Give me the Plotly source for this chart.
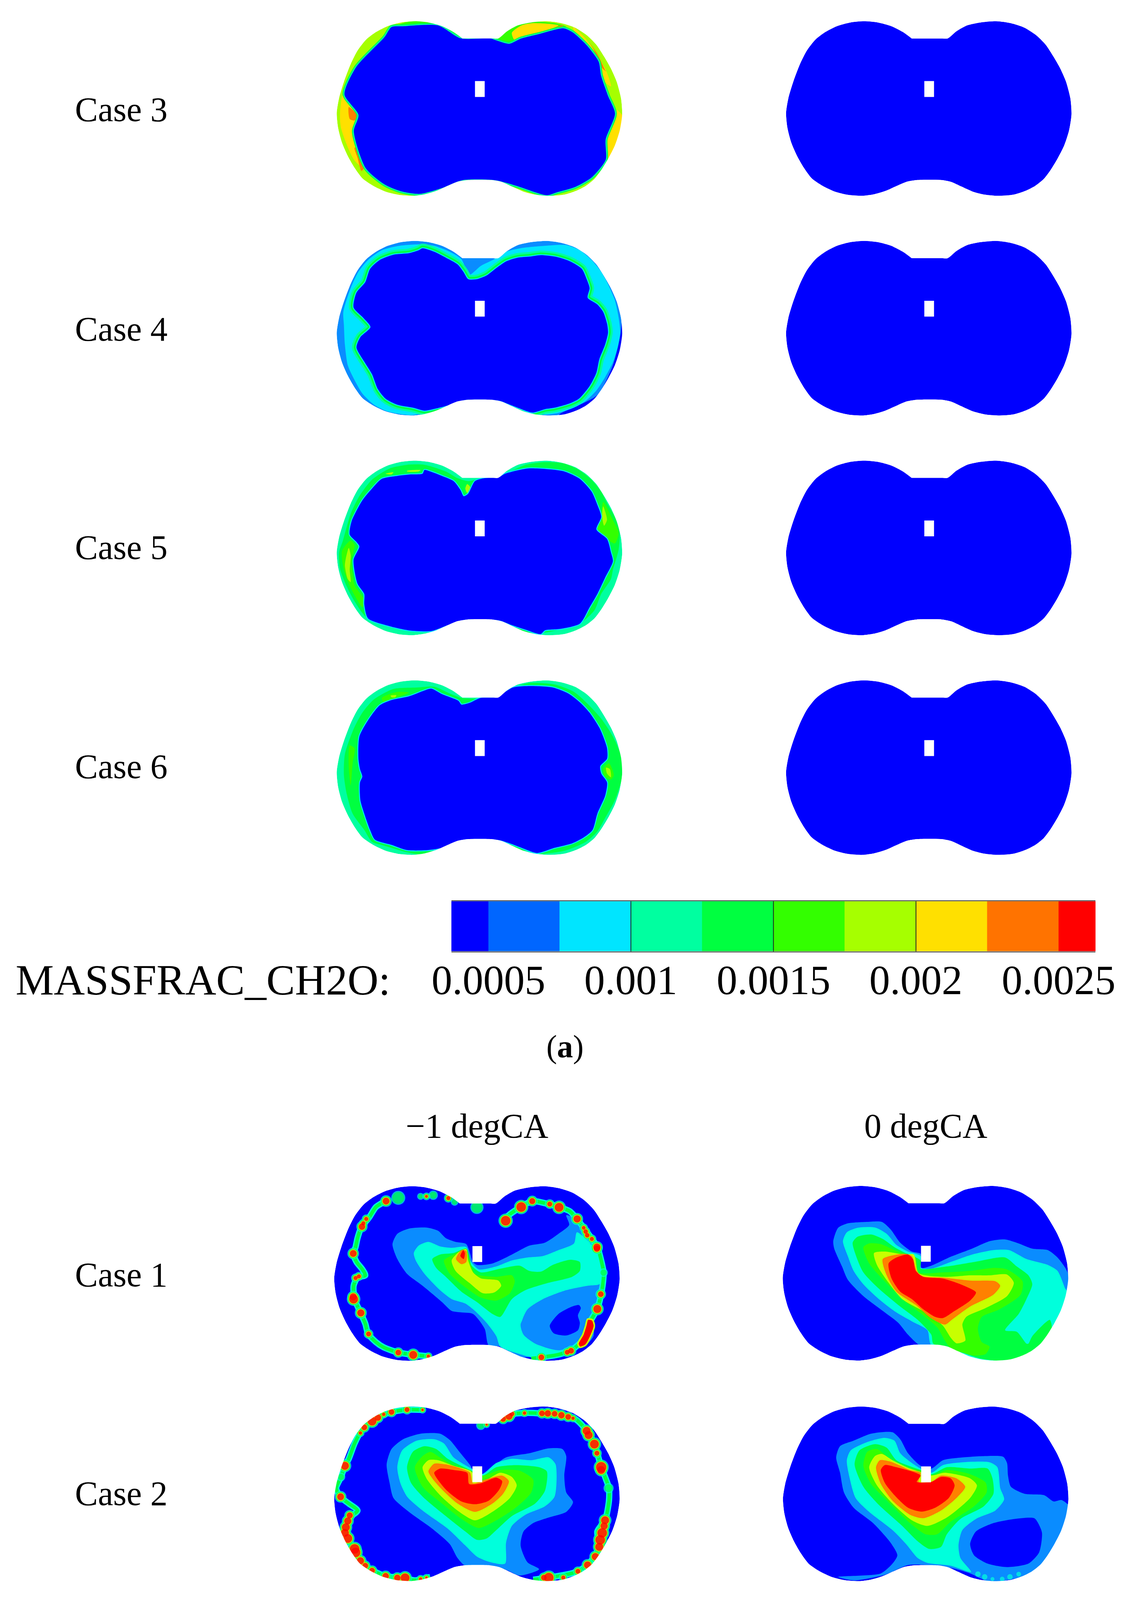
import plotly.graph_objects as go

W, H = 2891, 5368
FONT = "Liberation Serif"

BLUE = "#0000FF"
LIGHT = "#0A8CFF"
CYAN = "#00E5FF"
AQUA = "#00FFDC"
TURQ = "#00FFA0"
GREEN = "#00FF40"
LIME = "#33FF00"
CHART = "#A6FF00"
YELLOW = "#C8FF00"
GOLD = "#FFE000"
ORANGE = "#FF8000"
RED = "#FF0000"

# colour bar
BAR_EDGES = [0.00037, 0.0005, 0.00075, 0.001, 0.00125, 0.0015, 0.00175, 0.002, 0.00225, 0.0025, 0.00263]
BAR_COLORS = ["#0000FF", "#0066FF", "#00E5FF", "#00FFA0", "#00FF40", "#33FF00", "#A6FF00", "#FFE000", "#FF7300", "#FF0000"]
BAR_TICKS = [0.0005, 0.001, 0.0015, 0.002, 0.0025]
BAR_LABELS = ["0.0005", "0.001", "0.0015", "0.002", "0.0025"]

# chamber section
OUTLINE = [(705,278),(660,235),(600,195),(530,170),(460,162),(390,170),(320,195),(260,235),(210,285),
           (165,360),(130,450),(95,570),(70,680),(58,780),(65,880),(85,980),(115,1070),(150,1150),(190,1220),
           (245,1270),(310,1310),(380,1332),(450,1338),(510,1328),(570,1305),(630,1270),(680,1243),(730,1232),
           (860,1232),(910,1245),(960,1275),(1020,1310),(1080,1330),(1150,1338),(1230,1330),(1290,1305),
           (1340,1272),(1385,1225),(1420,1165),(1455,1090),(1490,1000),(1515,900),(1528,790),(1522,680),
           (1500,570),(1470,480),(1435,400),(1395,320),(1345,255),(1285,205),(1215,175),(1140,162),(1060,170),
           (990,190),(935,230),(890,278),(860,278),(800,278),(730,278),(705,278)]
HOLE = [(770,565),(820,565),(820,672),(770,672),(770,565)]

# Case 3, -1 degCA
C3_INNER = [(340,201),(400,196),(582,191),(696,277),(849,277),(873,288),(946,314),(1007,279),(1104,247),(1225,210),
            (1273,237),(1346,325),(1407,435),(1419,527),(1455,664),(1491,784),(1443,958),(1443,1096),(1370,1215),
            (1285,1279),(1188,1316),(1140,1334),(982,1270),(873,1233),(704,1233),(595,1288),(485,1325),(388,1307),
            (304,1261),(207,1151),(146,903),(170,793),(98,655),(158,471),(304,269)]
C3_LEFT_GOLD = [(90,660),(155,790),(140,900),(200,1150),(300,1260),(280,1240),(150,1100),(80,880),(75,780)]
C3_LEFT_OR1 = [(120,740),(165,800),(150,830),(125,820)]
C3_LEFT_OR2 = [(150,1015),(170,1010),(200,1150),(185,1170),(165,1080)]
C3_RIGHT_GOLD1 = [(1500,760),(1530,800),(1530,930),(1490,1060),(1450,1100),(1445,960),(1495,790)]
C3_RIGHT_GOLD2 = [(1275,200),(1340,280),(1440,480),(1470,600),(1430,560),(1410,435),(1350,325),(1285,237)]
C3_RIGHT_OR = [(1355,300),(1400,380),(1440,490),(1445,500),(1420,470),(1380,350)]
C3_TOPR_LIME = [(885,290),(940,200),(1060,165),(1180,175),(1240,200),(1110,250),(1010,285),(946,325)]
C3_TOPR_GOLD = [(960,240),(1010,190),(1070,175),(1200,190),(1110,235),(1020,265),(975,290)]
C3_TOPR_OR = [(1180,210),(1220,190),(1225,205),(1190,225)]
C3_TOPL_LIME = [(340,205),(410,170),(500,160),(590,185),(400,195)]

# Case 4, -1 degCA
C4_SLIVER = [(1528,700),(1540,800),(1510,1000),(1440,1150),(1370,1260),(1290,1320),(1200,1340),(1210,1325),
             (1400,1200),(1480,1000),(1518,800)]
C4_CYAN = [(92,640),(130,480),(170,370),(220,290),(290,225),(380,195),(490,185),(560,195),(640,235),(700,285),
           (740,390),(800,330),(870,285),(930,235),(1010,210),(1130,195),(1240,190),(1310,225),(1370,290),
           (1420,370),(1450,440),(1490,560),(1510,680),(1518,780),(1505,880),(1480,980),(1440,1080),(1395,1170),
           (1340,1240),(1280,1285),(1200,1320),(1120,1332),(1060,1310),(560,1310),(440,1335),(320,1310),(250,1265),
           (190,1190),(150,1100),(115,1000),(100,860),(95,730)]
C4_INNER = [(500,212),(560,235),(620,275),(680,320),(710,370),(735,420),(780,420),(830,395),(880,345),(930,300),
            (990,275),(1050,268),(1110,258),(1190,270),(1260,300),(1320,350),(1345,420),(1360,480),(1350,545),
            (1400,590),(1430,640),(1450,720),(1455,780),(1440,860),(1410,960),(1395,1050),(1360,1140),(1305,1225),
            (1260,1255),(1180,1285),(1130,1295),(1065,1318),(1000,1290),(950,1265),(900,1240),(850,1232),(730,1232),
            (680,1245),(630,1270),(570,1290),(510,1305),(450,1285),(370,1265),(310,1225),(270,1160),(240,1060),
            (200,975),(160,880),(180,810),(232,742),(195,680),(145,610),(160,510),(205,440),(230,350),(280,290),
            (350,255),(430,245),(480,225)]

# Case 5, -1 degCA
C5_GREEN = [(90,700),(130,520),(175,400),(240,290),(330,215),(420,190),(510,190),(620,235),(680,280),(735,300),
            (790,285),(900,270),(960,230),(1030,190),(1130,172),(1225,180),(1300,220),(1370,290),(1420,370),
            (1455,460),(1490,540),(1515,640),(1510,760),(1480,900),(1470,960),(1420,1060),(1385,1170),(1320,1250),
            (1230,1290),(1130,1320),(540,1310),(440,1310),(350,1290),(260,1245),(205,1210),(150,1110),(110,1010),
            (75,890),(70,780)]
C5_INNER = [(510,225),(540,235),(600,265),(660,300),(695,360),(712,402),(735,385),(770,300),(820,280),(890,275),
            (925,250),(1040,215),(1130,218),(1230,235),(1310,285),(1370,370),(1400,460),(1420,540),(1395,625),
            (1450,690),(1470,780),(1480,840),(1440,950),(1400,1060),(1360,1150),(1310,1260),(1210,1295),(1130,1305),
            (1108,1330),(1030,1300),(960,1270),(900,1240),(850,1232),(730,1232),(680,1245),(630,1270),(545,1310),
            (430,1305),(340,1280),(220,1225),(200,1130),(200,1060),(165,990),(145,830),(175,740),(160,710),(125,660),
            (135,570),(190,430),(240,350),(290,285),(370,265),(440,255),(500,250)]
C5_LIME1 = [(85,770),(130,700),(150,730),(135,830),(150,1000),(200,1100),(190,1150),(130,1020),(95,900)]
C5_LIME2 = [(1430,440),(1480,560),(1510,650),(1490,720),(1440,680),(1400,620),(1420,540)]
C5_CHART1 = [(105,820),(120,750),(130,800),(125,900),(130,980),(115,960),(100,870)]
C5_CHART2 = [(1430,470),(1450,560),(1435,600),(1425,540)]
C5_CHART3 = [(310,250),(350,240),(340,255)]
C5_CHART4 = [(420,230),(490,225),(480,235),(420,235)]
C5_CHART5 = [(730,320),(745,340),(730,380),(720,350)]

# Case 6, -1 degCA
C6_GREEN = [(95,800),(100,660),(145,490),(190,380),(250,290),(350,220),(470,210),(560,205),(640,250),(700,280),
            (790,285),(880,275),(960,215),(1050,180),(1180,190),(1280,240),(1350,320),(1420,420),(1480,540),
            (1525,680),(1525,830),(1490,970),(1440,1090),(1400,1180),(1340,1250),(1230,1310),(1100,1330),(1090,1320),
            (600,1290),(500,1335),(420,1320),(300,1275),(240,1250),(200,1170),(140,1060),(110,930)]
C6_INNER = [(545,218),(600,255),(650,280),(685,300),(700,325),(740,315),(800,280),(880,275),(965,210),(1060,200),
            (1170,210),(1250,250),(1310,310),(1360,380),(1410,480),(1430,540),(1450,620),(1450,690),(1415,740),
            (1420,790),(1450,850),(1440,940),(1400,1060),(1375,1170),(1330,1220),(1270,1260),(1180,1290),(1090,1325),
            (1020,1295),(960,1265),(900,1240),(850,1232),(730,1232),(680,1245),(600,1290),(530,1305),(420,1305),
            (340,1270),(255,1235),(230,1170),(200,1060),(180,970),(178,850),(190,810),(178,760),(170,690),(175,540),
            (220,430),(280,330),(340,295),(430,270),(500,235)]
C6_LIME1 = [(125,600),(150,620),(140,720),(130,870),(120,750)]
C6_LIME2 = [(290,280),(370,240),(430,245),(370,275),(300,310)]
C6_LIME3 = [(1430,760),(1460,720),(1485,800),(1470,830),(1440,810)]
C6_CHART1 = [(1445,750),(1465,760),(1470,815),(1450,790)]
C6_CHART2 = [(335,265),(365,262),(360,275),(340,275)]

# Case 1, -1 degCA
C1L_LIGHT = [(345,580),(370,510),(430,475),(520,468),(580,490),(620,540),(670,565),(725,580),(760,700),(780,720),
             (860,710),(960,650),(1050,590),(1130,570),(1200,510),(1255,450),(1240,385),(1300,420),(1420,690),
             (1440,850),(1410,960),(1380,1060),(1380,1200),(1330,1270),(1150,1320),(1000,1340),(900,1270),(840,1260),
             (820,1150),(760,1050),(700,1040),(650,1030),(600,970),(500,860),(420,780),(370,680)]
C1L_AQUA = [(455,640),(480,590),(530,565),(590,595),(650,605),(725,600),(745,690),(790,750),(880,730),(960,690),
            (1040,670),(1120,660),(1200,620),(1280,575),(1295,500),(1380,600),(1420,700),(1435,800),(1410,850),
            (1350,860),(1240,890),(1120,950),(1040,1020),(1010,1110),(1020,1180),(1070,1240),(1130,1275),(1200,1295),
            (1290,1270),(1250,1300),(1100,1350),(1000,1320),(900,1270),(880,1200),(830,1110),(770,1030),(720,980),
            (650,950),(590,890),(510,780),(465,690)]
C1L_ISLE_LIGHT = [(1370,880),(1250,900),(1130,960),(1050,1030),(1005,1120),(1020,1190),(1080,1250),(1150,1278),
                  (1240,1270),(1300,1250),(1340,1170),(1360,1090),(1340,1040),(1370,990),(1400,960)]
C1L_ISLE_BLUE = [(1305,990),(1270,1000),(1200,1050),(1155,1130),(1175,1180),(1240,1195),(1300,1160),(1310,1110),
                 (1300,1060),(1315,1010)]
C1L_GREEN = [(550,680),(590,650),(660,640),(725,610),(750,720),(800,770),(900,745),(1000,725),(1050,760),(1110,765),
             (1170,720),(1260,685),(1310,700),(1310,760),(1270,800),(1150,840),(1030,890),(960,950),(900,1070),
             (860,1050),(780,970),(700,900),(620,800),(570,740)]
C1L_LIME = [(610,690),(660,650),(725,610),(750,720),(770,780),(880,800),(960,790),(975,830),(950,910),(880,960),
            (800,940),(710,860),(640,780)]
C1L_YELLOW = [(650,690),(690,630),(725,615),(735,690),(760,770),(800,810),(890,825),(905,860),(870,905),(810,910),
              (740,840),(670,760)]
C1L_ORANGE = [(672,680),(700,620),(725,625),(725,700),(700,715)]
C1L_RED = [(695,660),(710,620),(718,640),(712,680)]
C1L_CHAIN1 = [(310,290),(260,330),(225,400),(185,465),(165,540),(155,600),(143,645),(160,700),(190,750),(205,790),
              (165,805),(145,860),(150,950),(180,1040),(205,1115),(220,1185),(260,1240),(300,1275),(375,1310),
              (450,1325),(530,1335)]
C1L_CHAIN2 = [(930,420),(940,390),(1005,330),(1065,290),(1150,310),(1205,330),(1260,360),(1295,410),(1330,470),
              (1370,540),(1400,600),(1420,690),(1432,770),(1430,830),(1420,915),(1400,1015),(1360,1110),(1330,1220),
              (1265,1295),(1195,1325),(1110,1342),(1060,1350)]
C1L_SPOTS = [(375,268,30),(490,258,12),(555,250,18),(665,295,14),(780,332,28),(1432,772,16)]
C1L_BEADS = [(312,290,17),(210,410,10),(195,440,10),(188,462,16),(143,643,17),(172,797,10),(155,808,10),(145,950,22),
             (143,935,18),(182,1043,18),(222,1185,12),(375,1310,14),(452,1326,20),(530,1335,8),(520,258,7),(633,270,10),
             (928,422,24),(1008,330,24),(1065,290,15),(1155,310,12),(1203,332,22),(1296,410,18),(1330,470,9),(1340,495,11),
             (1348,520,11),(1372,545,10),(1398,600,18),(1398,610,16),(1418,917,14),(1400,1017,20),(1265,1298,14),
             (1245,1308,12),(1112,1342,14)]
C1L_LONG = [(1350,1085),(1375,1090),(1385,1130),(1370,1190),(1340,1260),(1310,1275),(1300,1250),(1325,1190),(1340,1130)]

# Case 1, 0 degCA
C1R_LIGHT = [(295,560),(320,470),(370,440),(470,430),(545,430),(590,480),(640,570),(700,630),(745,645),(745,700),
             (750,740),(800,725),(900,665),(1010,610),(1100,560),(1180,548),(1250,575),(1320,610),(1400,620),(1450,670),
             (1490,740),(1510,800),(1500,880),(1510,1000),(1450,1200),(1350,1340),(1100,1380),(800,1260),(740,1260),
             (680,1190),(630,1110),(540,1020),(450,930),(370,820),(340,730),(300,610)]
C1R_AQUA = [(345,560),(365,500),(420,470),(510,468),(570,510),(620,585),(680,630),(745,660),(745,740),(800,745),
            (900,700),(1010,650),(1120,620),(1200,620),(1290,680),(1400,720),(1450,760),(1490,880),(1500,900),(1500,1050),
            (1450,1200),(1350,1340),(1100,1380),(800,1260),(780,1160),(700,1100),(620,1040),(530,950),(450,850),(400,760),
            (370,660)]
C1R_GREEN = [(395,570),(420,530),(490,515),(550,545),(610,600),(660,635),(745,690),(745,745),(880,730),(1020,700),
             (1180,670),(1240,730),(1300,790),(1320,850),(1290,950),(1250,1050),(1180,1160),(1240,1170),(1290,1250),
             (1300,1250),(1320,1200),(1410,1090),(1420,1150),(1350,1290),(1200,1365),(1050,1350),(900,1280),(810,1250),
             (800,1190),(730,1090),(640,1000),(530,880),(450,770),(410,650)]
C1R_LIME = [(450,600),(480,575),(540,580),(610,620),(660,645),(720,670),(735,770),(860,770),(1000,760),(1120,740),
            (1190,750),(1270,830),(1260,920),(1150,1020),(1060,1070),(1040,1150),(1060,1240),(1100,1270),(1080,1320),
            (1020,1330),(900,1280),(870,1230),(830,1140),(750,1050),(660,960),(560,830),(480,710)]
C1R_YELLOW = [(505,640),(560,630),(660,650),(710,650),(735,775),(880,800),(1000,790),(1100,790),(1190,785),(1225,840),
              (1190,930),(1080,1010),(980,1070),(960,1120),(975,1230),(930,1248),(900,1210),(860,1130),(770,1040),
              (650,950),(580,840),(520,720)]
C1R_ORANGE = [(550,680),(660,645),(700,660),(725,760),(750,795),(860,805),(1000,825),(1130,830),(1155,860),(1120,920),
              (1000,1000),(910,1085),(870,1122),(800,1080),(720,990),(620,900),(570,790)]
C1R_RED = [(580,710),(620,670),(680,650),(705,680),(720,760),(760,800),(860,812),(950,850),(1030,905),(1000,960),
           (920,1030),(860,1078),(820,1070),(760,1020),(700,950),(640,900),(595,810)]

# Case 2, -1 degCA
C2L_LIGHT = [(315,620),(340,510),(400,440),(490,400),(590,400),(640,445),(690,530),(745,625),(755,650),(800,720),
             (860,640),(930,570),(1050,540),(1150,505),(1220,510),(1240,560),(1230,700),(1240,820),(1275,890),(1240,960),
             (1150,1000),(1070,1040),(1020,1100),(1005,1200),(1040,1320),(1100,1370),(1000,1415),(940,1380),(880,1350),
             (720,1345),(680,1290),(640,1190),(550,1080),(430,960),(350,860),(330,750)]
C2L_AQUA = [(370,640),(395,520),(470,450),(560,440),(610,470),(660,570),(745,645),(805,690),(880,610),(960,580),
            (1060,590),(1150,570),(1185,620),(1180,850),(1130,920),(1030,980),(960,1060),(930,1180),(925,1330),(850,1320),
            (780,1280),(720,1200),(630,1080),(500,950),(420,850),(385,750)]
C2L_GREEN = [(420,640),(450,530),(510,490),(570,510),(630,580),(745,660),(810,700),(880,640),(980,625),(1100,640),
             (1140,670),(1130,810),(1080,900),(960,990),(880,1090),(830,1150),(780,1160),(720,1100),(620,990),(500,850),
             (440,750)]
C2L_LIME = [(460,640),(500,560),(540,530),(590,570),(660,625),(745,665),(810,700),(900,660),(1000,665),(1070,730),
            (1060,820),(980,930),(880,1020),(790,1075),(700,1010),(600,900),(500,780)]
C2L_YELLOW = [(500,640),(530,590),(580,590),(660,630),(745,665),(800,745),(900,680),(960,710),(985,770),(950,860),
              (870,950),(770,1020),(680,950),(590,840),(520,720)]
C2L_ORANGE = [(530,670),(560,615),(620,620),(700,650),(745,680),(760,755),(820,730),(910,700),(945,740),(915,830),
              (860,900),(770,960),(680,900),(600,800),(550,720)]
C2L_RED = [(560,680),(590,650),(660,660),(730,680),(740,760),(800,755),(880,715),(910,740),(895,800),(840,880),
           (770,905),(700,885),(620,800)]
C2L_CHAIN1 = [(500,230),(420,228),(340,245),(270,280),(220,330),(180,390),(150,470),(120,580),(100,630),(80,710),
              (55,790),(75,850),(120,900),(165,950),(125,1000),(95,1080),(110,1150),(150,1230),(180,1310),(230,1370),
              (310,1420),(400,1432),(460,1450),(540,1425)]
C2L_CHAIN2 = [(900,300),(960,260),(1025,252),(1100,255),(1280,290),(1340,370),(1385,475),(1420,640),(1440,710),
              (1460,790),(1460,880),(1440,1020),(1400,1100),(1410,1210),(1350,1340),(1280,1395),(1150,1430),(1070,1445)]
C2L_SPOTS = [(1458,790,20),(800,340,18),(80,710,16)]
C2L_BEADS = [(420,228,12),(500,230,6),(340,245,14),(300,262,8),(270,285,16),(240,310,22),(200,355,14),(180,395,8),
             (100,630,20),(78,852,17),(125,985,15),(115,1025,18),(105,1070,20),(100,1110,20),(115,1150,22),(150,1225,24),
             (155,1250,24),(180,1310,18),(205,1345,14),(240,1380,14),(310,1420,16),(370,1432,16),(410,1432,22),(490,1440,8),
             (520,1430,6),(915,295,14),(945,275,18),(960,258,12),(1025,253,8),(1115,255,14),(1145,255,16),(1180,258,14),
             (1215,268,16),(1250,280,14),(1275,290,8),(1345,380,20),(1355,410,20),(1385,475,22),(1398,540,12),(1420,640,26),
             (1420,660,20),(1440,1020,20),(1435,1060,18),(1425,1110,24),(1415,1160,24),(1410,1210,20),(1390,1280,18),
             (1350,1340,18),(1300,1385,12),(1150,1430,24),(1125,1430,14),(1225,1430,10),(830,335,5)]

# Case 2, 0 degCA
C2R_LIGHT = [(310,570),(330,490),(400,450),(490,400),(600,390),(640,440),(680,540),(745,630),(800,650),(860,590),
             (960,570),(1080,560),(1170,565),(1190,610),(1195,700),(1210,780),(1280,830),(1380,840),(1430,885),(1470,875),
             (1510,920),(1510,1100),(1450,1250),(1360,1380),(1220,1440),(1100,1460),(1000,1400),(900,1360),(780,1340),
             (680,1340),(560,1410),(400,1450),(320,1425),(540,1400),(600,1330),(625,1270),(590,1180),(500,1040),(400,930),
             (350,820),(330,680)]
C2R_ISLE_BLUE = [(1000,1190),(1030,1100),(1120,1040),(1230,1010),(1330,1005),(1350,1040),(1370,1110),(1355,1250),
                 (1300,1330),(1190,1355),(1090,1330),(1020,1270)]
C2R_AQUA = [(365,590),(385,520),(470,460),(560,430),(610,450),(640,540),(700,610),(745,650),(800,680),(860,625),
            (960,605),(1100,605),(1140,640),(1155,790),(1175,870),(1130,950),(1030,1010),(960,1090),(940,1200),(950,1290),
            (1005,1390),(900,1345),(780,1325),(730,1290),(670,1190),(600,1090),(480,960),(410,860),(380,720)]
C2R_GREEN = [(405,620),(430,520),(510,475),(570,500),(620,590),(745,660),(800,690),(880,640),(1000,650),(1090,650),
             (1115,720),(1120,830),(1070,920),(950,1010),(880,1120),(850,1210),(790,1225),(730,1170),(650,1060),(530,910),
             (450,780)]
C2R_LIME = [(450,630),(470,530),(520,510),(570,560),(640,630),(745,665),(810,695),(880,660),(1000,690),(1080,750),
            (1085,820),(1020,920),(900,1030),(830,1120),(770,1120),(690,1040),(580,890),(490,760)]
C2R_YELLOW = [(480,640),(510,560),(545,545),(600,590),(690,650),(745,675),(800,700),(870,680),(1000,720),(1035,770),
              (1000,860),(880,1000),(780,1060),(700,1020),(600,900),(520,770)]
C2R_ORANGE = [(515,640),(535,590),(590,600),(690,660),(745,680),(735,745),(800,745),(850,700),(930,720),(975,780),
              (930,860),(850,950),(760,1005),(690,980),(600,880),(540,760)]
C2R_RED = [(540,660),(560,625),(620,640),(720,680),(745,700),(725,745),(800,745),(850,710),(900,720),(920,770),
           (890,860),(820,930),(750,958),(680,930),(610,840),(560,750)]
C2R_SPECKS = [(1040,1405,14),(1075,1425,14),(1115,1440,10),(1165,1440,12),(1205,1425,14),(1250,1405,12)]

PANELS = [
    dict(crop=(830, -20, 784, 784), base=CHART, layers=[
        (C3_TOPR_LIME, LIME), (C3_TOPR_GOLD, GOLD), (C3_TOPR_OR, ORANGE), (C3_TOPL_LIME, LIME),
        (C3_LEFT_GOLD, GOLD), (C3_LEFT_OR1, ORANGE), (C3_LEFT_OR2, ORANGE),
        (C3_RIGHT_GOLD1, GOLD), (C3_RIGHT_GOLD2, GOLD), (C3_RIGHT_OR, ORANGE),
        (C3_INNER, BLUE, [(GREEN, 10), (TURQ, 6)])]),
    dict(crop=(1987, -20, 784, 784)),
    dict(crop=(830, 720, 784, 784), base=LIGHT, layers=[
        (C4_SLIVER, BLUE), (C4_CYAN, CYAN), (C4_INNER, BLUE, [(TURQ, 24), (GREEN, 14), (CYAN, 5)])]),
    dict(crop=(1987, 720, 784, 784)),
    dict(crop=(830, 1460, 784, 784), base=TURQ, layers=[
        (C5_GREEN, GREEN), (C5_LIME1, LIME), (C5_LIME2, LIME),
        (C5_CHART1, CHART), (C5_CHART2, CHART), (C5_CHART3, CHART), (C5_CHART4, CHART), (C5_CHART5, CHART),
        (C5_INNER, BLUE, [(CYAN, 5)])]),
    dict(crop=(1987, 1460, 784, 784)),
    dict(crop=(830, 2200, 784, 784), base=TURQ, layers=[
        (C6_GREEN, GREEN), (C6_LIME1, LIME), (C6_LIME2, LIME), (C6_LIME3, LIME),
        (C6_CHART1, CHART), (C6_CHART2, CHART),
        (C6_INNER, BLUE, [(CYAN, 5)])]),
    dict(crop=(1987, 2200, 784, 784)),
    dict(crop=(830, 3890, 784, 784), shift=(-13, 28), layers=[
        (C1L_LIGHT, LIGHT), (C1L_AQUA, AQUA), (C1L_ISLE_LIGHT, LIGHT), (C1L_ISLE_BLUE, BLUE),
        (C1L_GREEN, GREEN), (C1L_LIME, LIME), (C1L_YELLOW, YELLOW), (C1L_ORANGE, ORANGE), (C1L_RED, RED)],
        chains=[C1L_CHAIN1, C1L_CHAIN2], spots=C1L_SPOTS, beads=C1L_BEADS, long=[C1L_LONG]),
    dict(crop=(1990, 3890, 784, 784), shift=(-23, 26), layers=[
        (C1R_LIGHT, LIGHT), (C1R_AQUA, AQUA), (C1R_GREEN, GREEN), (C1R_LIME, LIME),
        (C1R_YELLOW, YELLOW), (C1R_ORANGE, ORANGE), (C1R_RED, RED)]),
    dict(crop=(830, 4630, 784, 738), shift=(-13, 33), sy=1.0625, layers=[
        (C2L_LIGHT, LIGHT), (C2L_AQUA, AQUA), (C2L_GREEN, GREEN), (C2L_LIME, LIME),
        (C2L_YELLOW, YELLOW), (C2L_ORANGE, ORANGE), (C2L_RED, RED)],
        chains=[C2L_CHAIN1, C2L_CHAIN2], spots=C2L_SPOTS, beads=C2L_BEADS),
    dict(crop=(1990, 4630, 784, 738), shift=(-22, 34), sy=1.0625, layers=[
        (C2R_LIGHT, LIGHT), (C2R_ISLE_BLUE, BLUE), (C2R_AQUA, AQUA), (C2R_GREEN, GREEN), (C2R_LIME, LIME),
        (C2R_YELLOW, YELLOW), (C2R_ORANGE, ORANGE), (C2R_RED, RED)], specks=C2R_SPECKS),
]

CASE_LABELS = ["Case 3", "Case 4", "Case 5", "Case 6", "Case 1", "Case 2"]
CASE_Y = [358, 1098, 1834, 2571, 4283, 5020]
COLUMN_LABELS = ["\u22121 degCA", "0 degCA"]
COLUMN_X = [1220, 2376]
SMOOTH = 0.7


def poly(points, color, axis, line_color=None, line_width=0, shape="spline"):
    xs = [p[0] for p in points] + [points[0][0]]
    ys = [p[1] for p in points] + [points[0][1]]
    return go.Scatter(x=xs, y=ys, mode="lines", fill="toself", fillcolor=color,
                      line=dict(shape=shape, smoothing=SMOOTH if shape == "spline" else None, width=line_width,
                                color=line_color or color),
                      xaxis=f"x{axis}", yaxis=f"y{axis}", hoverinfo="skip", showlegend=False)


def stroke(points, color, width, axis):
    return go.Scatter(x=[p[0] for p in points], y=[p[1] for p in points], mode="lines",
                      line=dict(shape="spline", smoothing=SMOOTH, width=width, color=color),
                      xaxis=f"x{axis}", yaxis=f"y{axis}", hoverinfo="skip", showlegend=False)


def dots(points, color, grow, axis):
    return go.Scatter(x=[p[0] for p in points], y=[p[1] for p in points], mode="markers",
                      marker=dict(color=color, size=[p[2] + grow for p in points], line=dict(width=0)),
                      xaxis=f"x{axis}", yaxis=f"y{axis}", hoverinfo="skip", showlegend=False)


fig = go.Figure()
layout_axes = {}

for i, p in enumerate(PANELS, start=1):
    x0, y0, w, h = p["crop"]
    du, dv = p.get("shift", (0, 0))
    sy = p.get("sy", 1)
    # crop maps onto 0..1568 on both axes, same as the zoomed reference
    v_per_px = 1568 / h
    v_start = 0
    if y0 < 0:
        v_start = -y0 * v_per_px
        h = h + y0
        y0 = 0
    layout_axes[f"xaxis{i}"] = dict(domain=[x0 / W, (x0 + w) / W], range=[0, 1568], visible=False,
                                    anchor=f"y{i}", fixedrange=True)
    layout_axes[f"yaxis{i}"] = dict(domain=[1 - (y0 + h) / H, 1 - y0 / H], range=[1568, v_start], visible=False,
                                    anchor=f"x{i}", fixedrange=True)

    outline = [(a + du, b * sy + dv) for a, b in OUTLINE]
    fig.add_trace(poly(outline, p.get("base", BLUE), i))

    for layer in p.get("layers", []):
        if len(layer) == 3:
            for ring_color, ring_width in layer[2]:
                fig.add_trace(poly(layer[0], layer[1], i, ring_color, ring_width))
        fig.add_trace(poly(layer[0], layer[1], i))

    for chain in p.get("chains", []):
        fig.add_trace(stroke(chain, AQUA, 16, i))
    for chain in p.get("chains", []):
        fig.add_trace(stroke(chain, GREEN, 9, i))
    if "spots" in p:
        fig.add_trace(dots(p["spots"], AQUA, 6, i))
        fig.add_trace(dots(p["spots"], GREEN, 0, i))
    if "beads" in p:
        fig.add_trace(dots(p["beads"], AQUA, 13, i))
        fig.add_trace(dots(p["beads"], GREEN, 9, i))
        fig.add_trace(dots(p["beads"], YELLOW, 5, i))
        fig.add_trace(dots(p["beads"], ORANGE, 2, i))
        fig.add_trace(dots(p["beads"], RED, 0, i))
    for blob in p.get("long", []):
        fig.add_trace(poly(blob, RED, i, YELLOW, 4))
    if "specks" in p:
        fig.add_trace(dots(p["specks"], AQUA, 0, i))

    # white mask outside the section, the outer path winds the other way so the section stays open
    frame = [(-30, -30), (1598, -30), (1598, 1598), (-30, 1598), (-30, -30)]
    mx = [q[0] for q in frame] + [None] + [q[0] for q in outline] + [outline[0][0]]
    my = [q[1] for q in frame] + [None] + [q[1] for q in outline] + [outline[0][1]]
    fig.add_trace(go.Scatter(x=mx, y=my, mode="lines", fill="toself", fillcolor="white",
                             line=dict(shape="spline", smoothing=SMOOTH, width=0, color="white"),
                             xaxis=f"x{i}", yaxis=f"y{i}", hoverinfo="skip", showlegend=False))
    hole = [(a + du, b * sy + dv) for a, b in HOLE]
    fig.add_trace(poly(hole, "white", i, shape="linear"))

# colour bar
bar = len(PANELS) + 1
page = bar + 1
n = len(BAR_COLORS)
scale = []
for k, c in enumerate(BAR_COLORS):
    scale.append([k / n, c])
    scale.append([(k + 1) / n, c])
fig.add_trace(go.Heatmap(x=BAR_EDGES, y=[0, 1], z=[list(range(n))], zmin=-0.5, zmax=n - 0.5, colorscale=scale,
                         showscale=False, hoverinfo="skip", xaxis=f"x{bar}", yaxis=f"y{bar}"))
tick_x, tick_y = [], []
for t in BAR_TICKS[1:4]:
    tick_x += [t, t, None]
    tick_y += [0, 1, None]
fig.add_trace(go.Scatter(x=tick_x, y=tick_y, mode="lines", line=dict(color="#222222", width=2),
                         xaxis=f"x{bar}", yaxis=f"y{bar}", hoverinfo="skip", showlegend=False))
BAR_X0, BAR_X1, BAR_Y0, BAR_Y1 = 1154, 2813, 3025, 3194
layout_axes[f"xaxis{bar}"] = dict(domain=[BAR_X0 / W, BAR_X1 / W], range=[BAR_EDGES[0], BAR_EDGES[-1]], anchor=f"y{bar}",
                                  showticklabels=False, ticks="", showline=True, mirror=True, linecolor="#333333",
                                  linewidth=2, showgrid=False, zeroline=False, fixedrange=True, automargin=False)
layout_axes[f"yaxis{bar}"] = dict(domain=[1 - BAR_Y1 / H, 1 - BAR_Y0 / H], range=[0, 1], visible=False,
                                  anchor=f"x{bar}", fixedrange=True)

# whole page axis in reference pixels, for the texts
fig.add_trace(go.Scatter(x=[0], y=[0], mode="markers", marker=dict(opacity=0), xaxis=f"x{page}", yaxis=f"y{page}",
                         hoverinfo="skip", showlegend=False))
layout_axes[f"xaxis{page}"] = dict(domain=[0, 1], range=[0, W], visible=False, anchor=f"y{page}", fixedrange=True)
layout_axes[f"yaxis{page}"] = dict(domain=[0, 1], range=[H, 0], visible=False, anchor=f"x{page}", fixedrange=True)


def text(s, x, y, size, anchor="left", xref=None):
    return dict(text=s, x=x, y=y, xref=xref or f"x{page}", yref=f"y{page}", xanchor=anchor, yanchor="middle",
                showarrow=False, font=dict(family=FONT, size=size, color="black"))


notes = [text(s, 183, y, 88) for s, y in zip(CASE_LABELS, CASE_Y)]
notes += [text(s, x, 3782, 88, "center") for s, x in zip(COLUMN_LABELS, COLUMN_X)]
notes.append(text("MASSFRAC_CH2O:", 30, 3291, 110))
notes += [text(s, t, 3291, 106, "center", f"x{bar}") for s, t in zip(BAR_LABELS, BAR_TICKS)]
notes.append(text("(<b>a</b>)", 1447, 3515, 82, "center"))

# transparent plot areas, the page axis lies over the whole figure
fig.update_layout(margin=dict(l=0, r=0, t=0, b=0), paper_bgcolor="white", plot_bgcolor="rgba(0,0,0,0)",
                  showlegend=False, annotations=notes, **layout_axes)

fig.write_html("out.html")
